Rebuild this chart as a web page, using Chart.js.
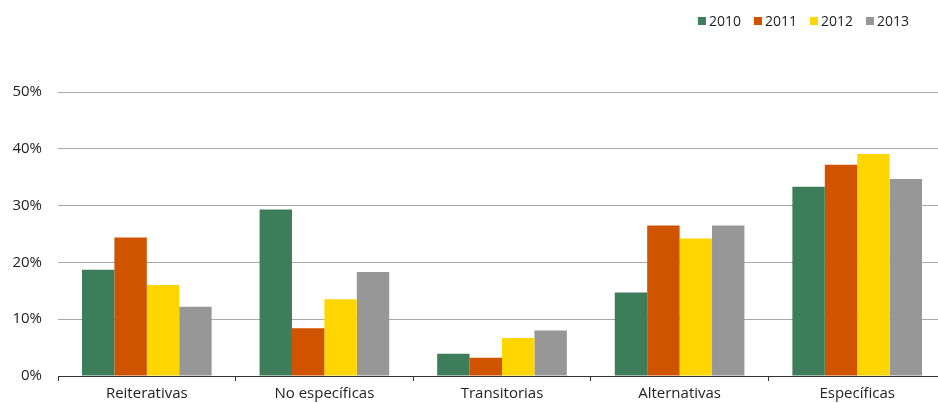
<!DOCTYPE html>
<html>
<head>
<meta charset="utf-8">
<script src="https://cdn.jsdelivr.net/npm/chart.js@4.4.0/dist/chart.umd.min.js"></script>
<style>
  html, body { margin: 0; padding: 0; background: #fff; width: 938px; height: 403px; overflow: hidden; }
  #wrap { width: 946px; height: 403px; }
</style>
</head>
<body>
<div id="wrap"><canvas id="c" width="946" height="403"></canvas></div>
<script>
// Share of each measure type by year (%)
const categories = ['Reiterativas', 'No específicas', 'Transitorias', 'Alternativas', 'Específicas'];
const years = ['2010', '2011', '2012', '2013'];
const values2010 = [18.7, 29.3, 3.9, 14.7, 33.3];
const values2011 = [24.4, 8.4, 3.2, 26.5, 37.2];
const values2012 = [16.0, 13.5, 6.7, 24.2, 39.1];
const values2013 = [12.2, 18.3, 8.0, 26.5, 34.7];
const yTicks = [0, 10, 20, 30, 40, 50];

const seriesValues = [values2010, values2011, values2012, values2013];
const colors = ['#3e7d5a', '#d05300', '#ffd600', '#979797'];
const FONT = "'Open Sans', 'DejaVu Sans', sans-serif";
const TEXT = '#222';

// Legend drawn in a single row at the top right
const topLegend = {
  id: 'topLegend',
  afterDraw(chart) {
    const ctx = chart.ctx;
    const box = 8, gap = 3, itemGap = 13, rightEdge = 909, cy = 21;
    ctx.save();
    ctx.font = '14px ' + FONT;
    ctx.textBaseline = 'middle';
    ctx.textAlign = 'left';
    const items = chart.data.datasets.map(ds => ({
      label: ds.label, color: ds.backgroundColor, w: ctx.measureText(ds.label).width
    }));
    let total = 0;
    items.forEach((it, i) => { total += box + gap + it.w + (i < items.length - 1 ? itemGap : 0); });
    let x = rightEdge - total;
    items.forEach(it => {
      ctx.fillStyle = it.color;
      ctx.fillRect(x, cy - box / 2, box, box);
      ctx.fillStyle = TEXT;
      ctx.fillText(it.label, x + box + gap, cy + 1);
      x += box + gap + it.w + itemGap;
    });
    ctx.restore();
  }
};

new Chart(document.getElementById('c'), {
  type: 'bar',
  data: {
    labels: categories,
    datasets: years.map((y, i) => ({
      label: y,
      data: seriesValues[i],
      backgroundColor: colors[i],
      borderWidth: 0,
      categoryPercentage: 0.73,
      barPercentage: 1.0
    }))
  },
  options: {
    responsive: false,
    animation: false,
    devicePixelRatio: 1,
    layout: { padding: { top: 92, left: 0, right: 0, bottom: 0 } },
    plugins: {
      legend: { display: false },
      tooltip: { enabled: false }
    },
    scales: {
      x: {
        offset: true,
        grid: {
          display: true,
          offset: true,
          drawOnChartArea: false,
          drawTicks: true,
          tickLength: 5,
          color: '#333'
        },
        border: { display: true, color: '#333', width: 1 },
        ticks: {
          color: TEXT,
          font: { family: FONT, size: 15 },
          padding: 4,
          maxRotation: 0
        },
        afterFit(scale) { scale.height = 27; }
      },
      y: {
        min: 0,
        max: 50,
        afterBuildTicks(scale) { scale.ticks = yTicks.map(v => ({ value: v })); },
        grid: {
          color: '#a8a8a8',
          lineWidth: 1,
          drawTicks: false
        },
        border: { display: false },
        ticks: {
          color: TEXT,
          font: { family: FONT, size: 15 },
          padding: 16,
          callback: v => v + '%'
        },
        afterFit(scale) { scale.width = 58; }
      }
    }
  },
  plugins: [topLegend]
});
</script>
</body>
</html>
